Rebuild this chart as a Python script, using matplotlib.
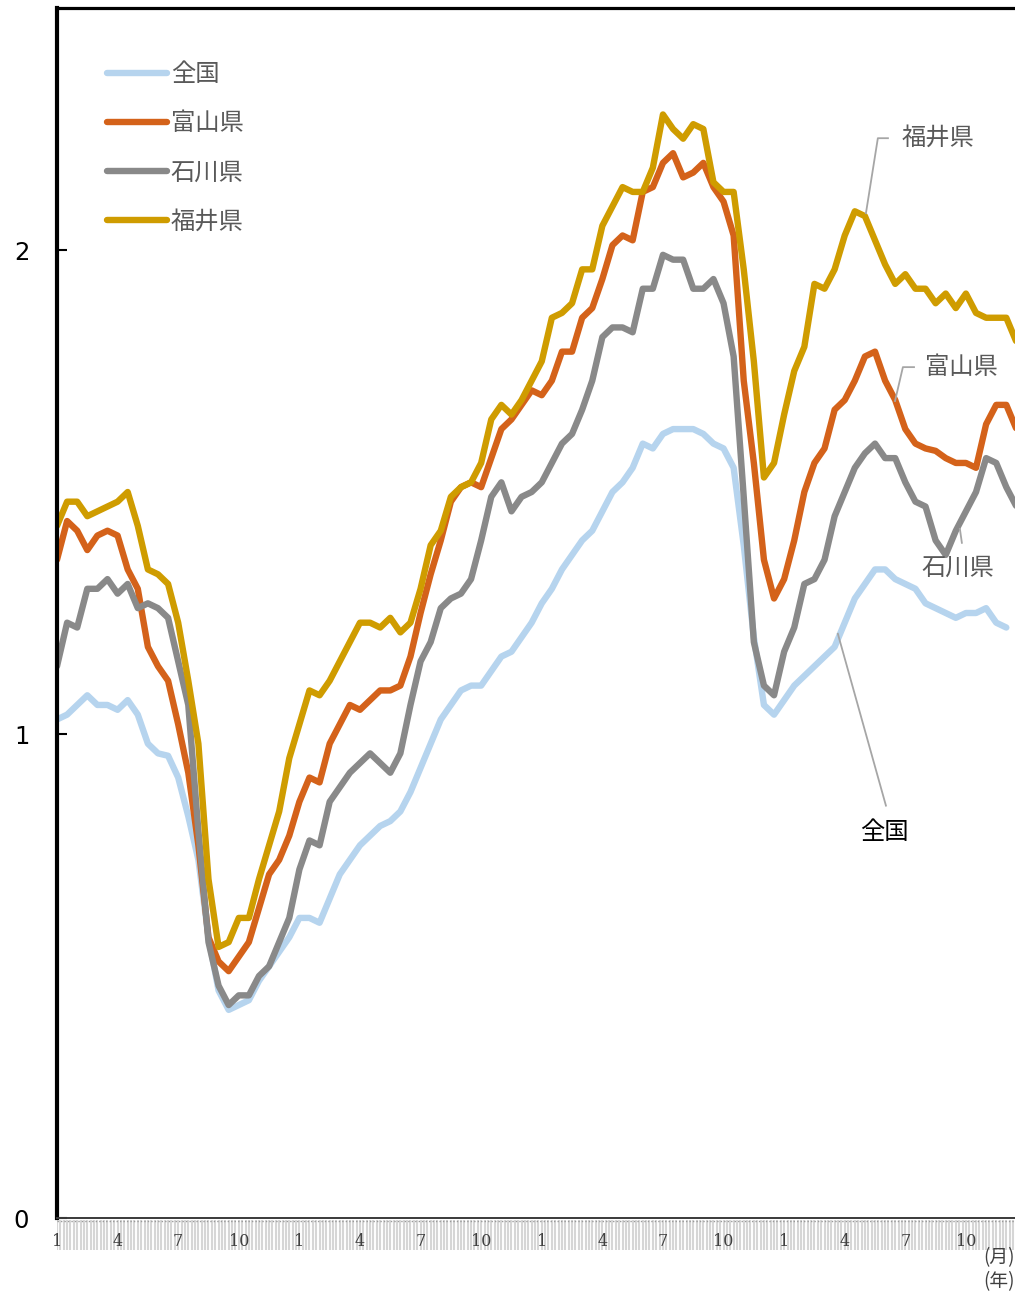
import numpy as np
import matplotlib
matplotlib.use("Agg")
import matplotlib.pyplot as plt

# semi-monthly readings, four years starting in January
national = [1.03, 1.04, 1.06, 1.08, 1.06, 1.06, 1.05, 1.07, 1.04, 0.98,
            0.96, 0.955, 0.91, 0.83, 0.74, 0.58, 0.47, 0.43, 0.44, 0.45,
            0.49, 0.52, 0.55, 0.58, 0.62, 0.62, 0.61, 0.66, 0.71, 0.74,
            0.77, 0.79, 0.81, 0.82, 0.84, 0.88, 0.93, 0.98, 1.03, 1.06,
            1.09, 1.10, 1.10, 1.13, 1.16, 1.17, 1.20, 1.23, 1.27, 1.30,
            1.34, 1.37, 1.40, 1.42, 1.46, 1.50, 1.52, 1.55, 1.60, 1.59,
            1.62, 1.63, 1.63, 1.63, 1.62, 1.60, 1.59, 1.55, 1.39, 1.20,
            1.06, 1.04, 1.07, 1.10, 1.12, 1.14, 1.16, 1.18, 1.23, 1.28,
            1.31, 1.34, 1.34, 1.32, 1.31, 1.30, 1.27, 1.26, 1.25, 1.24,
            1.25, 1.25, 1.26, 1.23, 1.22]
toyama = [1.36, 1.44, 1.42, 1.38, 1.41, 1.42, 1.41, 1.34, 1.30, 1.18,
          1.14, 1.11, 1.02, 0.92, 0.77, 0.58, 0.53, 0.51, 0.54, 0.57,
          0.64, 0.71, 0.74, 0.79, 0.86, 0.91, 0.90, 0.98, 1.02, 1.06,
          1.05, 1.07, 1.09, 1.09, 1.10, 1.16, 1.25, 1.33, 1.40, 1.48,
          1.51, 1.52, 1.51, 1.57, 1.63, 1.65, 1.68, 1.71, 1.70, 1.73,
          1.79, 1.79, 1.86, 1.88, 1.94, 2.01, 2.03, 2.02, 2.12, 2.13,
          2.18, 2.20, 2.15, 2.16, 2.18, 2.13, 2.10, 2.03, 1.73, 1.56,
          1.36, 1.28, 1.32, 1.40, 1.50, 1.56, 1.59, 1.67, 1.69, 1.73,
          1.78, 1.79, 1.73, 1.69, 1.63, 1.60, 1.59, 1.585, 1.57, 1.56,
          1.56, 1.55, 1.64, 1.68, 1.68, 1.63]
ishikawa = [1.14, 1.23, 1.22, 1.30, 1.30, 1.32, 1.29, 1.31, 1.26, 1.27,
            1.26, 1.24, 1.15, 1.06, 0.80, 0.57, 0.48, 0.44, 0.46, 0.46,
            0.50, 0.52, 0.57, 0.62, 0.72, 0.78, 0.77, 0.86, 0.89, 0.92,
            0.94, 0.96, 0.94, 0.92, 0.96, 1.06, 1.15, 1.19, 1.26, 1.28,
            1.29, 1.32, 1.40, 1.49, 1.52, 1.46, 1.49, 1.50, 1.52, 1.56,
            1.60, 1.62, 1.67, 1.73, 1.82, 1.84, 1.84, 1.83, 1.92, 1.92,
            1.99, 1.98, 1.98, 1.92, 1.92, 1.94, 1.89, 1.78, 1.49, 1.19,
            1.10, 1.08, 1.17, 1.22, 1.31, 1.32, 1.36, 1.45, 1.50, 1.55,
            1.58, 1.60, 1.57, 1.57, 1.52, 1.48, 1.47, 1.40, 1.37, 1.42,
            1.46, 1.50, 1.57, 1.56, 1.51, 1.47]
fukui = [1.43, 1.48, 1.48, 1.45, 1.46, 1.47, 1.48, 1.50, 1.43, 1.34,
         1.33, 1.31, 1.23, 1.11, 0.98, 0.70, 0.56, 0.57, 0.62, 0.62,
         0.70, 0.77, 0.84, 0.95, 1.02, 1.09, 1.08, 1.11, 1.15, 1.19,
         1.23, 1.23, 1.22, 1.24, 1.21, 1.23, 1.30, 1.39, 1.42, 1.49,
         1.51, 1.52, 1.56, 1.65, 1.68, 1.66, 1.69, 1.73, 1.77, 1.86,
         1.87, 1.89, 1.96, 1.96, 2.05, 2.09, 2.13, 2.12, 2.12, 2.17,
         2.28, 2.25, 2.23, 2.26, 2.25, 2.14, 2.12, 2.12, 1.96, 1.77,
         1.53, 1.56, 1.66, 1.75, 1.80, 1.93, 1.92, 1.96, 2.03, 2.08,
         2.07, 2.02, 1.97, 1.93, 1.95, 1.92, 1.92, 1.89, 1.91, 1.88,
         1.91, 1.87, 1.86, 1.86, 1.86, 1.81]

names = ['全国', '富山県', '石川県', '福井県']
colors = ['#b6d4ee', '#d4621a', '#898989', '#cf9c00']
month_labels = ['1', '4', '7', '10'] * 4

jp = ['Noto Sans CJK JP', 'DejaVu Sans']
label_gray = '#595959'

fig = plt.figure(figsize=(10.15, 12.92), dpi=100)
ax = fig.add_axes([57 / 1015, 74 / 1292, 1 - 57 / 1015, 1210 / 1292], zorder=2)

# striped strip under the x axis, drawn behind the tick labels
strip = fig.add_axes([57 / 1015, 42 / 1292, 1 - 57 / 1015, 30 / 1292], zorder=1)
strip.set_xlim(0, 47.43)
strip.set_ylim(0, 1)
strip.vlines(np.arange(0, 47.5, 1 / 6), 0, 1, color='#d6d6d6', lw=1.5)
strip.plot([0, 47.43], [0.97, 0.97], color='#9a9a9a', lw=1.0, ls=(0, (1, 1.5)))
strip.axis('off')

for name, vals, c in zip(names, [national, toyama, ishikawa, fukui], colors):
    x = np.arange(len(vals)) / 2
    ax.plot(x, vals, color=c, lw=4.6, label=name,
            solid_joinstyle='round', solid_capstyle='round')

ax.set_xlim(0, 47.43)
ax.set_ylim(0, 2.5)

ax.spines['right'].set_visible(False)
ax.spines['top'].set_linewidth(2.3)
ax.spines['left'].set_linewidth(3)
ax.spines['bottom'].set_linewidth(1.4)
ax.spines['bottom'].set_color('#3a3a3a')

ax.set_yticks([0, 1, 2])
ax.set_yticklabels(['0', '1', '2'])
ax.tick_params(axis='y', direction='in', length=7, width=1.5, labelsize=17.5, pad=20)

ax.set_xticks(np.arange(0, 48, 3))
ax.set_xticklabels(month_labels, fontfamily='DejaVu Serif', color='#404040', fontsize=11.5)
ax.tick_params(axis='x', which='major', length=0, pad=11)

leg = ax.legend(loc='upper left', bbox_to_anchor=(0.040, 0.966), frameon=False,
                handlelength=2.45, handletextpad=0.15, labelspacing=0.95,
                prop={'family': jp, 'size': 17.5}, borderpad=0)
for t in leg.get_texts():
    t.set_color(label_gray)

# callouts
line_kw = dict(color='#a6a6a6', lw=1.3)
ax.plot([41.14, 40.64, 40.05], [2.231, 2.231, 2.076], **line_kw)
ax.text(41.83, 2.231, '福井県', family=jp, fontsize=17.5, color=label_gray, va='center')
ax.plot([42.43, 41.88, 41.49], [1.758, 1.758, 1.688], **line_kw)
ax.text(42.97, 1.758, '富山県', family=jp, fontsize=17.5, color=label_gray, va='center')
ax.plot([44.70, 44.80], [1.424, 1.395], **line_kw)
ax.text(42.82, 1.344, '石川県', family=jp, fontsize=17.5, color=label_gray, va='center')
ax.plot([38.66, 41.04], [1.207, 0.852], **line_kw)
ax.text(39.75, 0.797, '全国', family=jp, fontsize=17.5, color='black', va='center')

fig.text(983 / 1015, 1 - 1258 / 1292, '(月)', family=jp, fontsize=13.5, color='#404040', va='center')
fig.text(983 / 1015, 1 - 1282 / 1292, '(年)', family=jp, fontsize=13.5, color='#404040', va='center')

fig.savefig('out.png', dpi=100)
